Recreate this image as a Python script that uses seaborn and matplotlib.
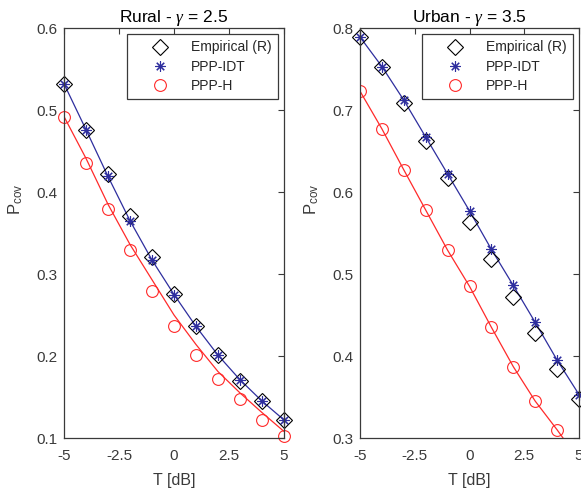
import numpy as np
import pandas as pd
import matplotlib
matplotlib.use("Agg")
import matplotlib.pyplot as plt
from matplotlib.lines import Line2D
import seaborn as sns

# ---- data ----
T = [-5, -4, -3, -2, -1, 0, 1, 2, 3, 4, 5]

rural_emp = [0.532, 0.476, 0.422, 0.371, 0.321, 0.276, 0.237, 0.201, 0.170, 0.145, 0.122]
rural_idt = [0.532, 0.476, 0.419, 0.365, 0.317, 0.275, 0.236, 0.201, 0.171, 0.145, 0.122]
rural_h = [0.492, 0.435, 0.379, 0.329, 0.279, 0.237, 0.201, 0.172, 0.148, 0.122, 0.103]
rural_idt_curve = [0.532, 0.476, 0.419, 0.365, 0.317, 0.275, 0.236, 0.201, 0.171, 0.145, 0.122]
rural_h_curve = [0.492, 0.441, 0.385, 0.336, 0.293, 0.250, 0.214, 0.181, 0.155, 0.131, 0.108]

urban_emp = [0.789, 0.752, 0.709, 0.662, 0.617, 0.564, 0.518, 0.472, 0.428, 0.384, 0.348]
urban_idt = [0.789, 0.753, 0.712, 0.667, 0.622, 0.577, 0.530, 0.486, 0.441, 0.395, 0.353]
urban_h = [0.723, 0.677, 0.627, 0.578, 0.529, 0.485, 0.435, 0.387, 0.345, 0.310, 0.273]
urban_idt_curve = [0.789, 0.753, 0.712, 0.667, 0.622, 0.577, 0.530, 0.486, 0.441, 0.395, 0.353]
urban_h_curve = [0.723, 0.677, 0.627, 0.578, 0.529, 0.485, 0.435, 0.387, 0.345, 0.310, 0.273]

x_ticks = [-5, -2.5, 0, 2.5, 5]
x_tick_labels = ["-5", "-2.5", "0", "2.5", "5"]
rural_yticks = [0.1, 0.2, 0.3, 0.4, 0.5, 0.6]
urban_yticks = [0.3, 0.4, 0.5, 0.6, 0.7, 0.8]
titles = ["Rural - $\\gamma$ = 2.5", "Urban - $\\gamma$ = 3.5"]
legend_labels = ["Empirical (R)", "PPP-IDT", "PPP-H"]

# ---- style ----
sns.set_theme(style="white")
plt.rcParams["font.family"] = ["Liberation Sans", "DejaVu Sans"]
plt.rcParams["mathtext.fontset"] = "custom"
plt.rcParams["mathtext.rm"] = "Liberation Sans"
plt.rcParams["mathtext.it"] = "Liberation Serif:italic"
plt.rcParams["axes.unicode_minus"] = False

BLUE = "#2e2e9e"
RED = "#ff2a2a"
AX = "#3a3a3a"
ASTER = (8, 2, 0)
D_MS = 8.5
S_MS = 7.5
O_MS = 8.5

fig = plt.figure(figsize=(5.81, 4.93), dpi=100)
ax1 = fig.add_axes([64 / 581, 55 / 493, 220 / 581, 410 / 493])
ax2 = fig.add_axes([360 / 581, 55 / 493, 219 / 581, 410 / 493])

panels = [
    (ax1, rural_emp, rural_idt, rural_h, rural_idt_curve, rural_h_curve, rural_yticks, (0.1, 0.6)),
    (ax2, urban_emp, urban_idt, urban_h, urban_idt_curve, urban_h_curve, urban_yticks, (0.3, 0.8)),
]

for i, (ax, emp, idt, h, idt_c, h_c, yt, ylim) in enumerate(panels):
    df = pd.DataFrame({"T": T, "emp": emp, "idt": idt, "h": h, "idtc": idt_c, "hc": h_c})
    sns.lineplot(data=df, x="T", y="idtc", ax=ax, color=BLUE, linewidth=0.9)
    sns.lineplot(data=df, x="T", y="hc", ax=ax, color=RED, linewidth=0.9)
    sns.lineplot(data=df, x="T", y="emp", ax=ax, linestyle="", marker="D",
                 markersize=D_MS, markerfacecolor="none", markeredgecolor="black",
                 markeredgewidth=0.8, clip_on=False)
    sns.lineplot(data=df, x="T", y="idt", ax=ax, linestyle="", marker=ASTER,
                 markersize=S_MS, markeredgecolor=BLUE, markeredgewidth=0.8, color=BLUE,
                 clip_on=False)
    sns.lineplot(data=df, x="T", y="h", ax=ax, linestyle="", marker="o",
                 markersize=O_MS, markerfacecolor="none", markeredgecolor=RED,
                 markeredgewidth=0.8, clip_on=(i == 1))

    ax.set_xlim(-5, 5)
    ax.set_ylim(*ylim)
    ax.set_xticks(x_ticks)
    ax.set_xticklabels(x_tick_labels)
    ax.set_yticks(yt)
    ax.set_yticklabels([f"{v:.1f}" for v in yt])
    ax.tick_params(direction="in", length=4, width=0.8, colors=AX, labelsize=11,
                   top=True, right=True)
    ax.tick_params(axis="x", pad=8)
    ax.tick_params(axis="y", pad=5)
    for sp in ax.spines.values():
        sp.set_color(AX)
        sp.set_linewidth(0.9)
    ax.set_xlabel("T [dB]", fontsize=11.5, color=AX, labelpad=7)
    ax.set_ylabel("P$_{\\mathrm{cov}}$", fontsize=12, color=AX)
    ax.yaxis.set_label_coords(-0.177, 0.582)
    ax.set_title(titles[i], fontsize=12.5, color="black", pad=4)

    handles = [
        Line2D([], [], linestyle="", marker="D", markersize=D_MS, markerfacecolor="none",
               markeredgecolor="black", markeredgewidth=0.8),
        Line2D([], [], linestyle="", marker=ASTER, markersize=S_MS, color=BLUE,
               markeredgewidth=0.8),
        Line2D([], [], linestyle="", marker="o", markersize=O_MS, markerfacecolor="none",
               markeredgecolor=RED, markeredgewidth=0.8),
    ]
    leg = ax.legend(handles, legend_labels, loc="upper right", fontsize=10,
                    frameon=True, fancybox=False, framealpha=1, edgecolor=AX,
                    borderpad=0.45, handlelength=3.9, handletextpad=0.25,
                    labelspacing=0.38, borderaxespad=0.45)
    leg.get_frame().set_linewidth(0.9)

fig.savefig("out.png", dpi=100)
